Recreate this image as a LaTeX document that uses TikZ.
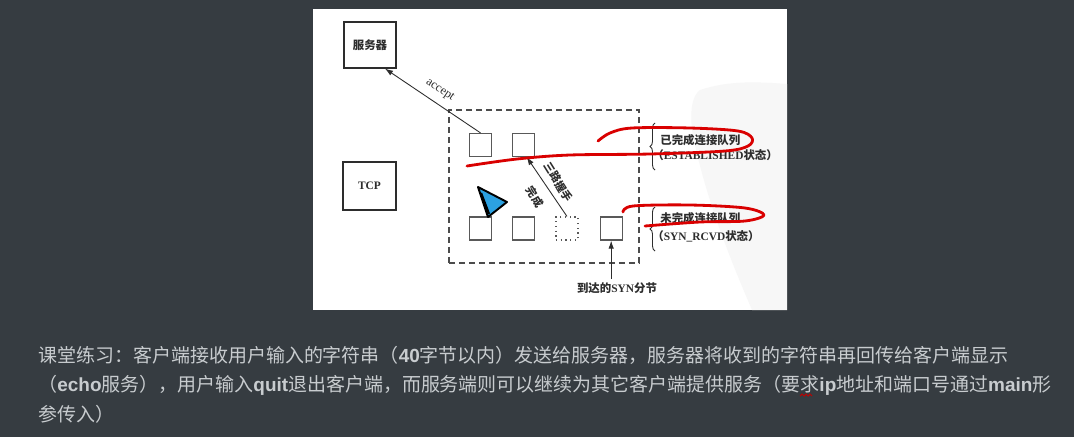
\documentclass[tikz,border=0pt]{standalone}
\usepackage{fontspec}
\setmainfont{Liberation Serif}
\newfontfamily\cjk{Noto Sans CJK SC}
\newfontfamily\uisans{Liberation Sans}
\usepackage{xcolor}
\usetikzlibrary{arrows.meta, positioning, calc, decorations.pathreplacing}
\definecolor{uibg}{RGB}{54,60,65}
\definecolor{uitext}{RGB}{200,204,207}
\definecolor{inkgray}{RGB}{45,45,45}
\newcommand{\zh}[1]{{\cjk\bfseries #1}}
\newcommand{\kw}[1]{{\uisans\bfseries #1}}

\begin{document}
\begin{tikzpicture}[
    x=0.02cm, y=-0.02cm,
    box/.style={rectangle, draw=inkgray, line width=0.7pt, minimum width=1.04cm, minimum height=0.92cm, text=inkgray, font=\cjk\bfseries\fontsize{6.5}{8}\selectfont},
    qbox/.style={rectangle, draw=black!65, line width=0.7pt, minimum width=0.44cm, minimum height=0.46cm, inner sep=0pt},
    arrow/.style={-{Latex[length=1.6mm, width=1.1mm]}, line width=0.5pt, inkgray},
    note/.style={font=\fontsize{6.5}{8}\selectfont, text=inkgray, inner sep=0pt},
    brace/.style={decorate, decoration={brace, amplitude=0.1cm}, line width=0.5pt, inkgray},
    scribble/.style={red!85!black, line width=1.6pt, line cap=round, line join=round},
    para/.style={font=\cjk\fontsize{10.8}{13}\selectfont, text=uitext, anchor=west, inner sep=0pt}
]
    % Page and scanned figure
    \fill[uibg] (0,0) rectangle (1074,437);
    \fill[white] (313,9) rectangle (787,310);
    \fill[gray!6] (700,90) .. controls (730,80) and (760,82) .. (787,84) -- (787,310) -- (752,310)
        .. controls (735,270) and (705,200) .. (692,130) .. controls (690,110) and (692,96) .. (700,90);

    % Main blocks
    \node[box] (server) at (370,45) {服务器};
    \node[box, minimum width=1.06cm, minimum height=0.96cm, font=\bfseries\fontsize{6.5}{8}\selectfont] (tcp) at (369.5,186) {TCP};

    % Listen socket with its two queues
    \node[draw=black!70, dashed, dash pattern=on 0.12cm off 0.08cm, line width=0.7pt,
          minimum width=3.8cm, minimum height=3.06cm] (listen) at (544,186.5) {};
    \node[qbox] (done1) at (480.5,145) {};
    \node[qbox, right=0.4cm of done1] (done2) {};
    \node[qbox] (half1) at (480.5,228.5) {};
    \node[qbox, right=0.4cm of half1] (half2) {};
    \node[qbox, dotted, right=0.4cm of half2] (half3) {};
    \node[qbox, right=0.42cm of half3] (half4) {};

    % Arrows
    \draw[arrow] (done1.north) -- node[sloped, above=1pt, font=\fontsize{7}{8}\selectfont, text=inkgray] {accept} ([xshift=0.3cm]server.south);
    \draw[arrow] (half3.north) -- ([xshift=0.06cm]done2.south);
    \node[note, rotate=-58, align=center, font=\cjk\bfseries\fontsize{6.2}{16}\selectfont] (hs) at (546.5,189.5) {三路握手\\完成};
    \node[note] (syn) at (617,288) {\zh{到达的}\textbf{SYN}\zh{分节}};
    \draw[arrow] (half4.south |- syn.north) ++(0,-3) -- (half4.south);

    % Queue labels
    \draw[brace] (655,170) -- (655,123);
    \node[note, anchor=west] (estq) at (660,140) {\zh{已完成连接队列}};
    \node[note, anchor=west] (eststate) at (652,155) {\zh{（}\textbf{ESTABLISHED}\zh{状态）}};
    \draw[brace] (655,251) -- (655,207);
    \node[note, anchor=west] (synq) at (660,218) {\zh{未完成连接队列}};
    \node[note, anchor=west] (synstate) at (652,236) {\zh{（}\textbf{SYN\_RCVD}\zh{状态）}};

    % Red pen marks
    \draw[scribble] plot[smooth, tension=0.55] coordinates {(467,166) (517,159) (570,155) (650,154) (725,151) (748,146) (752,138) (738,131) (690,128) (632,128) (610,133) (598,141)};
    \draw[scribble] plot[smooth, tension=0.55] coordinates {(623,212) (633,206) (690,205) (745,208) (764,215) (745,221) (700,222) (645,226)};

    % Mouse pointer
    \filldraw[fill=cyan!80!blue!85, draw=black, line width=1.1pt, line join=round] (478,187) -- (507,202) -- (488,217) -- cycle;
    \draw[black, line width=1.3pt] (481,193) -- (489,214);

    % Exercise text
    \node[para] (line1) at (38,355) {课堂练习：客户端接收用户输入的字符串（\kw{40}字节以内）发送给服务器，服务器将收到的字符串再回传给客户端显示};
    \node[para] (line2) at (38,385) {（\kw{echo}服务），用户输入\kw{quit}退出客户端，而服务端则可以继续为其它客户端提供服务（要求\kw{ip}地址和端口号通过\kw{main}形};
    \node[para] (line3) at (38,414) {参传入）};
    \draw[red!75!black, line width=0.6pt] (800,396) -- (802,394) -- (804,396) -- (806,394) -- (808,396) -- (810,394) -- (812,396);
\end{tikzpicture}
\end{document}
